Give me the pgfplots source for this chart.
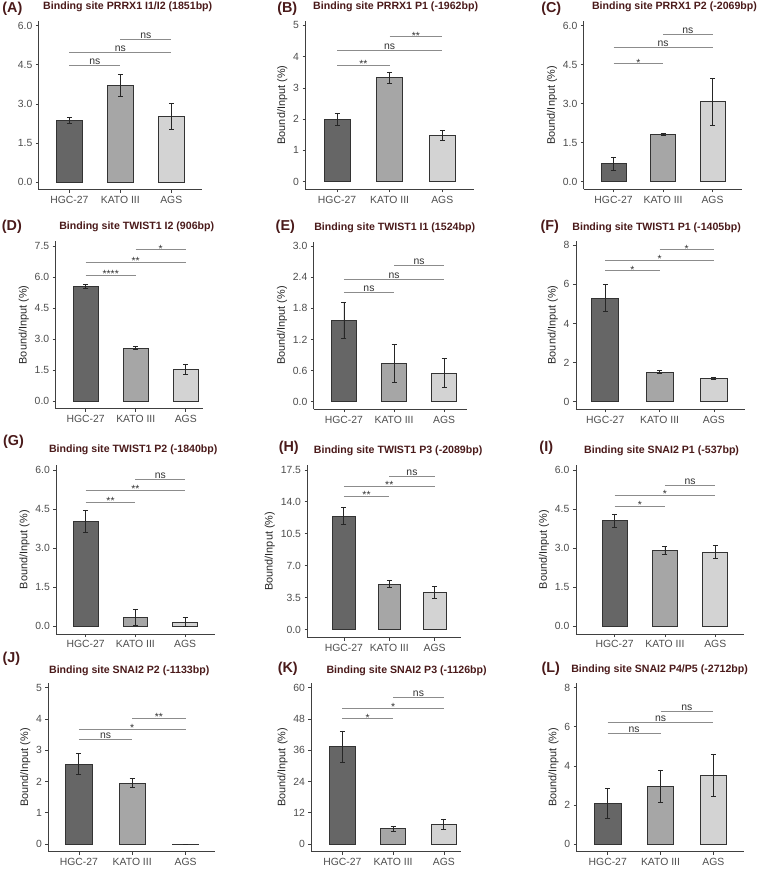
\documentclass[border=0pt]{standalone}
\usepackage{fontspec}
\setmainfont{Liberation Sans}
\usepackage{pgfplots}
\pgfplotsset{compat=1.18}
\definecolor{cA}{HTML}{666666}
\definecolor{cB}{HTML}{A6A6A6}
\definecolor{cC}{HTML}{D3D3D3}
\definecolor{ttl}{HTML}{4A1A1A}
\definecolor{tk}{HTML}{4D4D4D}
\definecolor{sg}{HTML}{8C8C8C}
\pgfplotsset{
  panel/.style={scale only axis, anchor=south west,
    axis x line*=bottom, axis y line*=left,
    axis line style={draw=black!75, line width=0.8pt, -},
    xtick={1,2,3}, xticklabels={HGC-27,KATO III,AGS},
    tick style={draw=black!75, line width=0.6pt},
    major tick length=3bp, tick align=outside, clip=false,
    ticklabel style={font=\fontsize{10.5}{11}\selectfont, text=tk},
    /pgf/number format/assume math mode=true,
    ylabel style={font=\fontsize{11}{12}\selectfont, text=black!85, yshift=-1bp},
    ylabel={Bound/Input (\%)}},
  dec/.style={yticklabel style={/pgf/number format/fixed, /pgf/number format/fixed zerofill, /pgf/number format/precision=1}},
  bar/.style={ybar, bar width=0.5, bar shift=0pt, draw=black!80, line width=0.7pt,
    /pgfplots/error bars/y dir=both, /pgfplots/error bars/y explicit,
    /pgfplots/error bars/error bar style={line width=0.7pt, black!85},
    /pgfplots/error bars/error mark options={rotate=90, mark size=2.5bp, line width=0.7pt, black!85}},
  bA/.style={fill=cA, bar},
  bB/.style={fill=cB, bar},
  bC/.style={fill=cC, bar},
  sgl/.style={sg, line width=0.9pt, forget plot},
}
\tikzset{
  ns/.style={anchor=base, yshift=1bp, inner sep=0pt, font=\fontsize{10.5}{11}\selectfont, text=black!80},
  st/.style={anchor=base, yshift=-2.5bp, inner sep=0pt, font=\fontsize{10.5}{11}\selectfont, text=black!80},
  ttlst/.style={anchor=base, inner sep=0pt, font=\bfseries\fontsize{10.7}{12}\selectfont, text=ttl},
  lbst/.style={anchor=base, inner sep=0pt, font=\bfseries\fontsize{14.5}{16}\selectfont, text=ttl},
}
\begin{document}
\begin{tikzpicture}[x=1bp,y=1bp]
\path (0,0) rectangle (764,869);

% ---------- (A)
\begin{axis}[panel, dec, ylabel={}, at={(39bp,678.2bp)}, width=164bp, height=169.6bp,
  xmin=0.4, xmax=3.6, ymin=-0.3, ymax=6.18, ytick={0,1.5,3,4.5,6}]
\addplot[bA] coordinates {(1,2.36) +- (0,0.13)};
\addplot[bB] coordinates {(2,3.71) +- (0,0.43)};
\addplot[bC] coordinates {(3,2.50) +- (0,0.50)};
\addplot[sgl] coordinates {(1,4.47) (2,4.47)};
\addplot[sgl] coordinates {(1,4.99) (3,4.99)};
\addplot[sgl] coordinates {(2,5.49) (3,5.49)};
\node[ns] at (axis cs:1.5,4.47) {ns};
\node[ns] at (axis cs:2,4.99) {ns};
\node[ns] at (axis cs:2.5,5.49) {ns};
\end{axis}

% ---------- (B)
\begin{axis}[panel, at={(307.3bp,678.4bp)}, width=169.3bp, height=169.9bp,
  xmin=0.4, xmax=3.6, ymin=-0.25, ymax=5.15, ytick={0,1,2,3,4,5}]
\addplot[bA] coordinates {(1,1.99) +- (0,0.18)};
\addplot[bB] coordinates {(2,3.32) +- (0,0.19)};
\addplot[bC] coordinates {(3,1.47) +- (0,0.16)};
\addplot[sgl] coordinates {(1,3.73) (2,3.73)};
\addplot[sgl] coordinates {(1,4.19) (3,4.19)};
\addplot[sgl] coordinates {(2,4.63) (3,4.63)};
\node[st] at (axis cs:1.5,3.73) {**};
\node[ns] at (axis cs:2,4.19) {ns};
\node[st] at (axis cs:2.5,4.63) {**};
\end{axis}

% ---------- (C)
\begin{axis}[panel, dec, at={(587.3bp,678.4bp)}, width=159.3bp, height=169.6bp,
  xmin=0.4, xmax=3.6, ymin=-0.3, ymax=6.18, ytick={0,1.5,3,4.5,6}]
\addplot[bA] coordinates {(1,0.69) +- (0,0.26)};
\addplot[bB] coordinates {(2,1.82) +- (0,0.03)};
\addplot[bC] coordinates {(3,3.07) +- (0,0.89)};
\addplot[sgl] coordinates {(1,4.53) (2,4.53)};
\addplot[sgl] coordinates {(1,5.15) (3,5.15)};
\addplot[sgl] coordinates {(2,5.66) (3,5.66)};
\node[st] at (axis cs:1.5,4.53) {*};
\node[ns] at (axis cs:2,5.15) {ns};
\node[ns] at (axis cs:2.5,5.66) {ns};
\end{axis}

% ---------- (D)
\begin{axis}[panel, dec, at={(56bp,457.9bp)}, width=148bp, height=168.5bp,
  xmin=0.4, xmax=3.34, ymin=-0.375, ymax=7.725, ytick={0,1.5,3,4.5,6,7.5}]
\addplot[bA] coordinates {(1,5.53) +- (0,0.09)};
\addplot[bB] coordinates {(2,2.55) +- (0,0.08)};
\addplot[bC] coordinates {(3,1.54) +- (0,0.25)};
\addplot[sgl] coordinates {(1,6.09) (2,6.09)};
\addplot[sgl] coordinates {(1,6.70) (3,6.70)};
\addplot[sgl] coordinates {(2,7.31) (3,7.31)};
\node[st] at (axis cs:1.5,6.09) {****};
\node[st] at (axis cs:2,6.70) {**};
\node[st] at (axis cs:2.5,7.31) {*};
\end{axis}

% ---------- (E)
\begin{axis}[panel, dec, at={(315.7bp,457.2bp)}, width=154.3bp, height=168.8bp,
  xmin=0.4, xmax=3.46, ymin=-0.15, ymax=3.09, ytick={0,0.6,1.2,1.8,2.4,3.0}]
\addplot[bA] coordinates {(1,1.57) +- (0,0.35)};
\addplot[bB] coordinates {(2,0.74) +- (0,0.37)};
\addplot[bC] coordinates {(3,0.55) +- (0,0.28)};
\addplot[sgl] coordinates {(1,2.11) (2,2.11)};
\addplot[sgl] coordinates {(1,2.36) (3,2.36)};
\addplot[sgl] coordinates {(2,2.62) (3,2.62)};
\node[ns] at (axis cs:1.5,2.11) {ns};
\node[ns] at (axis cs:2,2.36) {ns};
\node[ns] at (axis cs:2.5,2.62) {ns};
\end{axis}

% ---------- (F)
\begin{axis}[panel, at={(579.3bp,457.1bp)}, width=170bp, height=169.9bp,
  xmin=0.46, xmax=3.57, ymin=-0.4, ymax=8.24, ytick={0,2,4,6,8}]
\addplot[bA] coordinates {(1,5.29) +- (0,0.69)};
\addplot[bB] coordinates {(2,1.51) +- (0,0.07)};
\addplot[bC] coordinates {(3,1.19) +- (0,0.03)};
\addplot[sgl] coordinates {(1,6.69) (2,6.69)};
\addplot[sgl] coordinates {(1,7.22) (3,7.22)};
\addplot[sgl] coordinates {(2,7.76) (3,7.76)};
\node[st] at (axis cs:1.5,6.69) {*};
\node[st] at (axis cs:2,7.22) {*};
\node[st] at (axis cs:2.5,7.76) {*};
\end{axis}

% ---------- (G)
\begin{axis}[panel, dec, at={(56.7bp,231.1bp)}, width=160bp, height=169.9bp,
  xmin=0.41, xmax=3.61, ymin=-0.3, ymax=6.18, ytick={0,1.5,3,4.5,6}]
\addplot[bA] coordinates {(1,4.03) +- (0,0.42)};
\addplot[bB] coordinates {(2,0.34) +- (0,0.30)};
\addplot[bC] coordinates {(3,0.17) +- (0,0.16)};
\addplot[sgl] coordinates {(1,4.75) (2,4.75)};
\addplot[sgl] coordinates {(1,5.21) (3,5.21)};
\addplot[sgl] coordinates {(2,5.64) (3,5.64)};
\node[st] at (axis cs:1.5,4.75) {**};
\node[st] at (axis cs:2,5.21) {**};
\node[ns] at (axis cs:2.5,5.64) {ns};
\end{axis}

% ---------- (H)
\begin{axis}[panel, dec, at={(309.3bp,227.7bp)}, width=154bp, height=173.5bp,
  xmin=0.2, xmax=3.57, ymin=-0.875, ymax=18.025, ytick={0,3.5,7,10.5,14,17.5}]
\addplot[bA] coordinates {(1,12.45) +- (0,0.90)};
\addplot[bB] coordinates {(2,4.97) +- (0,0.38)};
\addplot[bC] coordinates {(3,4.07) +- (0,0.69)};
\addplot[sgl] coordinates {(1,14.6) (2,14.6)};
\addplot[sgl] coordinates {(1,15.69) (3,15.69)};
\addplot[sgl] coordinates {(2,16.78) (3,16.78)};
\node[st] at (axis cs:1.5,14.6) {**};
\node[st] at (axis cs:2,15.69) {**};
\node[ns] at (axis cs:2.5,16.78) {ns};
\end{axis}

% ---------- (I)
\begin{axis}[panel, dec, at={(579.3bp,231.1bp)}, width=169bp, height=169.9bp,
  xmin=0.23, xmax=3.57, ymin=-0.3, ymax=6.18, ytick={0,1.5,3,4.5,6}]
\addplot[bA] coordinates {(1,4.06) +- (0,0.25)};
\addplot[bB] coordinates {(2,2.92) +- (0,0.14)};
\addplot[bC] coordinates {(3,2.85) +- (0,0.26)};
\addplot[sgl] coordinates {(1,4.60) (2,4.60)};
\addplot[sgl] coordinates {(1,5.02) (3,5.02)};
\addplot[sgl] coordinates {(2,5.42) (3,5.42)};
\node[st] at (axis cs:1.5,4.60) {*};
\node[st] at (axis cs:2,5.02) {*};
\node[ns] at (axis cs:2.5,5.42) {ns};
\end{axis}

% ---------- (J)
\begin{axis}[panel, at={(48.7bp,12.1bp)}, width=168bp, height=169.9bp,
  xmin=0.43, xmax=3.56, ymin=-0.25, ymax=5.15, ytick={0,1,2,3,4,5}]
\addplot[bA] coordinates {(1,2.56) +- (0,0.34)};
\addplot[bB] coordinates {(2,1.95) +- (0,0.15)};
\addplot[bC] coordinates {(3,0) +- (0,0)};
\addplot[sgl] coordinates {(1,3.34) (2,3.34)};
\addplot[sgl] coordinates {(1,3.67) (3,3.67)};
\addplot[sgl] coordinates {(2,4.03) (3,4.03)};
\node[ns] at (axis cs:1.5,3.34) {ns};
\node[st] at (axis cs:2,3.67) {*};
\node[st] at (axis cs:2.5,4.03) {**};
\end{axis}

% ---------- (K)
\begin{axis}[panel, at={(313.3bp,12.1bp)}, width=150bp, height=169.9bp,
  xmin=0.39, xmax=3.33, ymin=-3, ymax=61.8, ytick={0,12,24,36,48,60}]
\addplot[bA] coordinates {(1,37.4) +- (0,6.0)};
\addplot[bB] coordinates {(2,5.85) +- (0,1.1)};
\addplot[bC] coordinates {(3,7.6) +- (0,2.05)};
\addplot[sgl] coordinates {(1,48.0) (2,48.0)};
\addplot[sgl] coordinates {(1,52.1) (3,52.1)};
\addplot[sgl] coordinates {(2,56.2) (3,56.2)};
\node[st] at (axis cs:1.5,48.0) {*};
\node[st] at (axis cs:2,52.1) {*};
\node[ns] at (axis cs:2.5,56.2) {ns};
\end{axis}

% ---------- (L)
\begin{axis}[panel, at={(580bp,12.1bp)}, width=168.3bp, height=169.9bp,
  xmin=0.41, xmax=3.58, ymin=-0.4, ymax=8.24, ytick={0,2,4,6,8}]
\addplot[bA] coordinates {(1,2.07) +- (0,0.76)};
\addplot[bB] coordinates {(2,2.97) +- (0,0.82)};
\addplot[bC] coordinates {(3,3.51) +- (0,1.06)};
\addplot[sgl] coordinates {(1,5.66) (2,5.66)};
\addplot[sgl] coordinates {(1,6.22) (3,6.22)};
\addplot[sgl] coordinates {(2,6.76) (3,6.76)};
\node[ns] at (axis cs:1.5,5.66) {ns};
\node[ns] at (axis cs:2,6.22) {ns};
\node[ns] at (axis cs:2.5,6.76) {ns};
\end{axis}

% ---------- titles and panel letters
\node[ttlst] at (128.5,859) {Binding site PRRX1 I1/I2 (1851bp)};
\node[ttlst] at (398,859.3) {Binding site PRRX1 P1 (-1962bp)};
\node[ttlst] at (678.5,859) {Binding site PRRX1 P2 (-2069bp)};
\node[ttlst] at (137.5,638.3) {Binding site TWIST1 I2 (906bp)};
\node[ttlst] at (397,636.7) {Binding site TWIST1 I1 (1524bp)};
\node[ttlst] at (660.5,636.7) {Binding site TWIST1 P1 (-1405bp)};
\node[ttlst] at (134,413.7) {Binding site TWIST1 P2 (-1840bp)};
\node[ttlst] at (400.5,413.3) {Binding site TWIST1 P3 (-2089bp)};
\node[ttlst] at (665.5,413.3) {Binding site SNAI2 P1 (-537bp)};
\node[ttlst] at (130,191.7) {Binding site SNAI2 P2 (-1133bp)};
\node[ttlst] at (409,191.7) {Binding site SNAI2 P3 (-1126bp)};
\node[ttlst] at (663.5,192.7) {Binding site SNAI2 P4/P5 (-2712bp)};

\node[lbst] at (12.5,856) {(A)};
\node[lbst] at (289,856) {(B)};
\node[lbst] at (554.5,856) {(C)};
\node[lbst] at (12,637.3) {(D)};
\node[lbst] at (287,637) {(E)};
\node[lbst] at (553,637) {(F)};
\node[lbst] at (13.5,420.7) {(G)};
\node[lbst] at (290.5,414.7) {(H)};
\node[lbst] at (549.5,415) {(I)};
\node[lbst] at (11.5,202.3) {(J)};
\node[lbst] at (289.5,192.3) {(K)};
\node[lbst] at (554,193) {(L)};
\end{tikzpicture}
\end{document}
